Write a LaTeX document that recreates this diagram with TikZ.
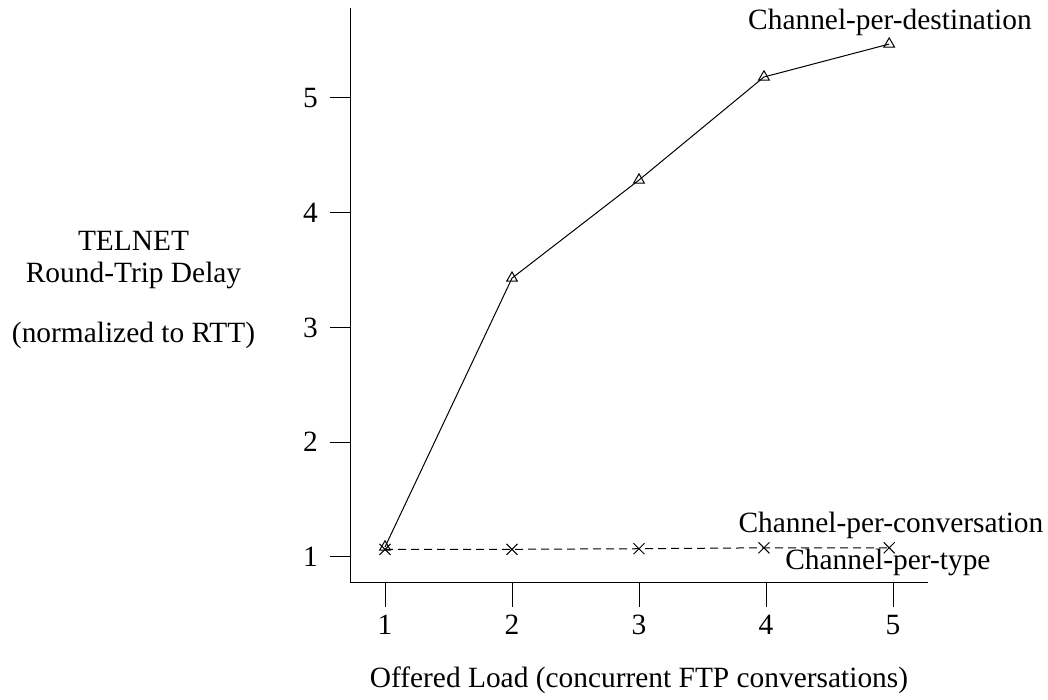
\documentclass[tikz,border=0pt]{standalone}
\usepackage{fontspec}
\setmainfont{Liberation Serif}
\usetikzlibrary{shapes.geometric, shapes.misc, positioning}
\tikzset{
plotfont/.style={font=\fontsize{14.7pt}{16pt}\selectfont}, % text size of all labels
tri/.style={draw, regular polygon, regular polygon sides=3, minimum size=6.2pt, inner sep=0pt}, % triangle marker
crossmk/.style={draw, cross out, minimum size=5pt, inner sep=0pt}, % cross marker
axisline/.style={line width=0.5pt},
}

\begin{document}
\begin{tikzpicture}[x=63.5pt, y=57.375pt, plotfont, line width=0.5pt]
    \useasboundingbox (-2.0315,-0.2462) rectangle (6.2205,5.854);

    % axes
    \coordinate (orig) at (0.7244,0.7734);
    \coordinate (ytop) at (0.7244,5.784);
    \coordinate (xend) at (5.2756,0.7734);
    \draw[axisline] (ytop) -- (orig) -- (xend);

    % ticks
    \foreach \i in {1,...,5} {
        \draw[axisline] (\i,0.7734) -- (\i,0.5643);
        \node (xt\i) at (\i,0.4074) {\i};
        \draw[axisline] (0.7244,\i) -- (0.567,\i);
        \node[anchor=east] (yt\i) at (0.5276,\i) {\i};
    }

    % axis labels
    \node (xlab) at (3.0,-0.072) {Offered Load (concurrent FTP conversations)};
    \node[align=center] (ylab) at (-0.98,3.33) {TELNET\\Round-Trip Delay\\[14pt](normalized to RTT)};

    % Channel-per-destination
    \node[tri] (d1) at (1,1.087) {};
    \node[tri] (d2) at (2,3.43) {};
    \node[tri] (d3) at (3,4.285) {};
    \node[tri] (d4) at (3.984,5.183) {};
    \node[tri] (d5) at (4.97,5.47) {};
    \draw (d1.center) -- (d2.center) -- (d3.center) -- (d4.center) -- (d5.center);

    % Channel-per-conversation / Channel-per-type
    \node[crossmk] (c1) at (1,1.067) {};
    \node[crossmk] (c2) at (2,1.067) {};
    \node[crossmk] (c3) at (3,1.072) {};
    \node[crossmk] (c4) at (3.984,1.08) {};
    \node[crossmk] (c5) at (4.97,1.08) {};
    \draw[dash pattern=on 4pt off 2.5pt] (c1.center) -- (c2.center) -- (c3.center) -- (c4.center) -- (c5.center);

    % series labels
    \node (ldest) at (4.976,5.662) {Channel-per-destination};
    \node (lconv) at (4.984,1.279) {Channel-per-conversation};
    \node (ltype) at (4.96,0.948) {Channel-per-type};
\end{tikzpicture}
\end{document}
